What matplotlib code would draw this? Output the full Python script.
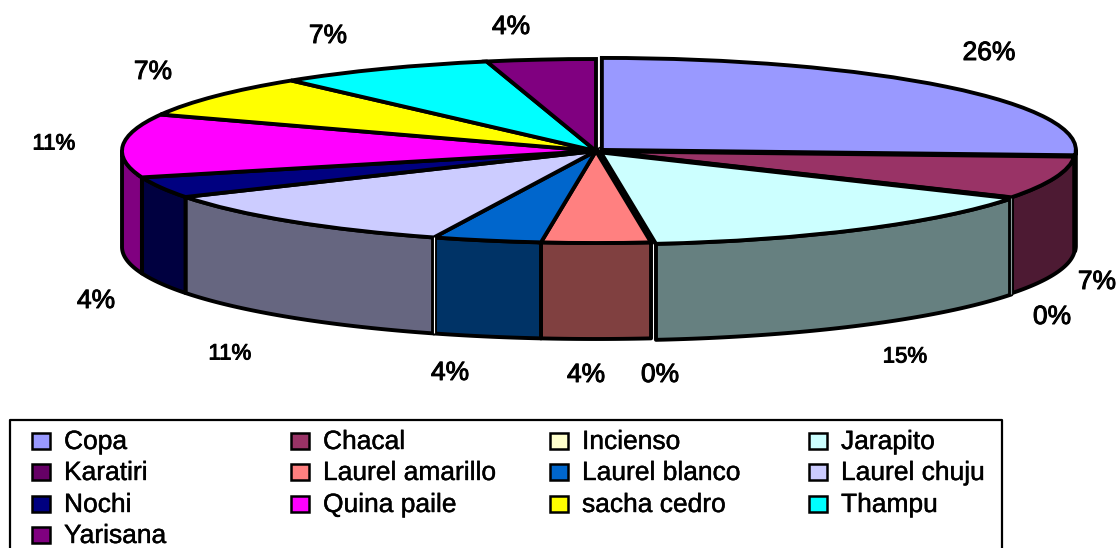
import matplotlib
matplotlib.use('Agg')
import matplotlib.pyplot as plt
import matplotlib.patheffects as pe
from matplotlib.patches import Rectangle
import numpy as np

names = ['Copa', 'Chacal', 'Incienso', 'Jarapito', 'Karatiri', 'Laurel amarillo', 'Laurel blanco',
         'Laurel chuju', 'Nochi', 'Quina paile', 'sacha cedro', 'Thampu', 'Yarisana']
# counts out of 27, the percent labels are these rounded
values = [7, 2, 0, 4, 0, 1, 1, 3, 1, 3, 2, 2, 1]
colors = ['#9999FF', '#993366', '#FFFFCC', '#CCFFFF', '#660066', '#FF8080', '#0066CC',
          '#CCCCFF', '#000080', '#FF00FF', '#FFFF00', '#00FFFF', '#800080']

# where the percent labels sit, in pixels of the picture
label_x = [989, 1097, 1052, 905, 660, 586, 450, 230, 96, 54, 153, 328, 511]
label_y = [53, 282, 317, 357, 375, 375, 373, 354, 301, 144, 72, 36, 27]
label_size = [19, 19, 19, 16, 19, 19, 19, 16, 19, 16, 19, 19, 19]

W, H = 1117, 548
cx, cy = 596, 151   # pie centre
rx, ry = 474, 92    # ellipse of the top face
depth = 96 / ry

fig = plt.figure(figsize=(W / 100, H / 100), dpi=100)
plt.rcParams['font.family'] = ['Liberation Sans', 'DejaVu Sans']

ax = fig.add_axes([0, 0, 1, 1])
explode = [0.017, 0.011, 0, 0.019, 0, 0, 0, 0, 0, 0, 0, 0, 0]
ax.pie(values, colors=colors, startangle=90, counterclock=False, explode=explode, radius=1,
       wedgeprops={'edgecolor': 'black', 'linewidth': 2.8, 'zorder': 5})
ax.set_aspect('auto')
ax.set_xlim((0 - cx) / rx, (W - cx) / rx)
ax.set_ylim((cy - H) / ry, cy / ry)
ax.axis('off')

# side wall, only the front half of the rim shows
edges = np.cumsum([0] + values) / sum(values) * 2 * np.pi
for i in range(len(values)):
    a0 = max(edges[i], np.pi / 2)
    a1 = min(edges[i + 1], 3 * np.pi / 2)
    if a1 <= a0:
        continue
    mid = (edges[i] + edges[i + 1]) / 2
    t = np.linspace(a0, a1, 60)
    x = np.sin(t) + explode[i] * np.sin(mid)
    y = np.cos(t) + explode[i] * np.cos(mid)
    dark = [c * 0.5 for c in matplotlib.colors.to_rgb(colors[i])]
    ax.fill(np.r_[x, x[::-1]], np.r_[y, y[::-1] - depth], facecolor=dark, edgecolor='black',
            linewidth=2.8, joinstyle='round', zorder=2)

# two seams on the wall show up as double lines
for i, col in [(3, '#8a9a9a'), (7, 'white')]:
    mid = (edges[i] + edges[i + 1]) / 2
    s = np.sin(edges[i]) + explode[i] * np.sin(mid)
    c = np.cos(edges[i]) + explode[i] * np.cos(mid)
    ax.plot([s, s], [c, c - depth], color='black', linewidth=4.2, zorder=6, solid_capstyle='butt')
    ax.plot([s, s], [c, c - depth], color=col, linewidth=0.8, zorder=7, solid_capstyle='butt')

# overlay in picture pixels for the labels and the legend box
ov = fig.add_axes([0, 0, 1, 1])
ov.set_xlim(0, W)
ov.set_ylim(H, 0)
ov.axis('off')
ov.patch.set_alpha(0)

for i, v in enumerate(values):
    txt = ov.text(label_x[i], label_y[i], f'{round(v / sum(values) * 100)}%', fontsize=label_size[i],
                  ha='center', va='center', color='black')
    txt.set_path_effects([pe.withStroke(linewidth=0.7, foreground='black')])

ov.plot([10, 10, 1002, 1002], [H, 420, 420, H], color='black', linewidth=1.6, clip_on=False)

col_x = [32, 291, 550, 809]
row_y = [441, 472, 504, 535]
for i, name in enumerate(names):
    x = col_x[i % 4]
    y = row_y[i // 4]
    ov.add_patch(Rectangle((x, y - 8), 18, 16, facecolor=colors[i], edgecolor='black', linewidth=1.8))
    txt = ov.text(x + 32, y + 1, name, fontsize=19, ha='left', va='center', color='black')
    txt.set_path_effects([pe.withStroke(linewidth=0.3, foreground='black')])

fig.savefig('out.png', dpi=100)
